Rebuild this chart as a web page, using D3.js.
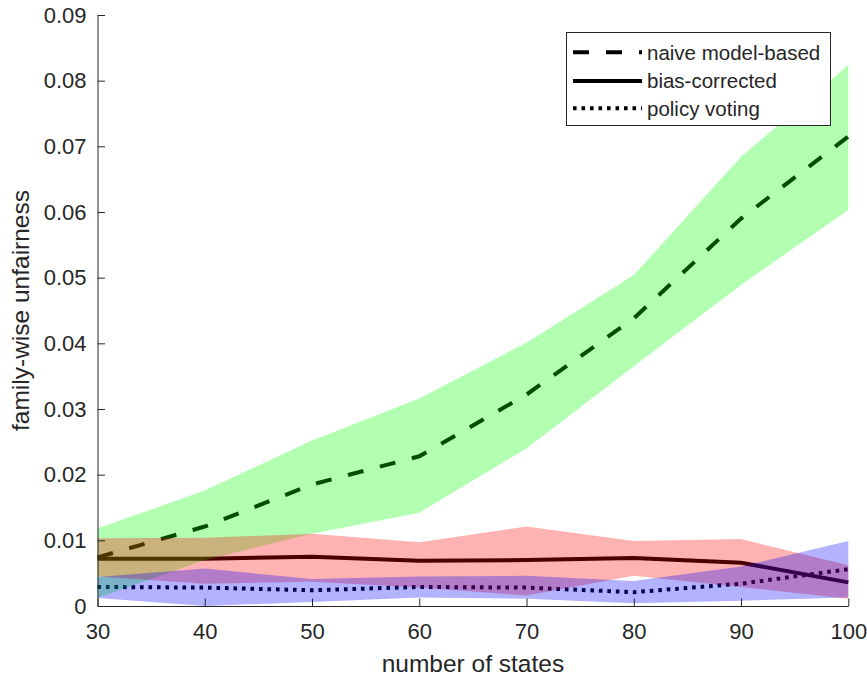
<!DOCTYPE html>
<html>
<head>
<meta charset="utf-8">
<script src="https://cdn.jsdelivr.net/npm/d3@7"></script>
<style>
  body { margin: 0; background: #fff; }
  text { font-family: "Liberation Sans", Arial, Helvetica, sans-serif; fill: #262626; }
</style>
</head>
<body>
<script>
// data
var states = [30, 40, 50, 60, 70, 80, 90, 100];

var naiveMean  = [0.0074, 0.0121, 0.0185, 0.0228, 0.0322, 0.0438, 0.0590, 0.0715];
var naiveUpper = [0.0118, 0.0176, 0.0252, 0.0316, 0.0401, 0.0504, 0.0684, 0.0824];
var naiveLower = [0.0012, 0.0070, 0.0110, 0.0142, 0.0240, 0.0365, 0.0489, 0.0603];

var biasMean  = [0.0072, 0.0072, 0.0075, 0.0069, 0.0070, 0.0073, 0.0066, 0.0036];
var biasUpper = [0.0103, 0.0104, 0.0110, 0.0097, 0.0121, 0.0099, 0.0102, 0.0062];
var biasLower = [0.0045, 0.0034, 0.0037, 0.0028, 0.0016, 0.0046, 0.0029, 0.0011];

var policyMean  = [0.0029, 0.0028, 0.0024, 0.0029, 0.0028, 0.0021, 0.0034, 0.0056];
var policyUpper = [0.0044, 0.0057, 0.0041, 0.0045, 0.0046, 0.0038, 0.0060, 0.0099];
var policyLower = [0.0012, 0.0000, 0.0006, 0.0013, 0.0011, 0.0004, 0.0008, 0.0013];

var xTicks = [30, 40, 50, 60, 70, 80, 90, 100];
var yTicks = [0, 0.01, 0.02, 0.03, 0.04, 0.05, 0.06, 0.07, 0.08, 0.09];
var yTickLabels = ["0", "0.01", "0.02", "0.03", "0.04", "0.05", "0.06", "0.07", "0.08", "0.09"];

var seriesNames = ["naive model-based", "bias-corrected", "policy voting"];

// svg params
var svgWidth = 867;
var svgHeight = 677;

var margin = { top: 15, right: 18.7, bottom: 71, left: 97.5 };
var chartWidth = svgWidth - margin.left - margin.right;
var chartHeight = svgHeight - margin.top - margin.bottom;

var svg = d3.select("body").append("svg")
    .attr("width", svgWidth)
    .attr("height", svgHeight);

var chartGroup = svg.append("g")
    .attr("transform", `translate(${margin.left}, ${margin.top})`);

var xScale = d3.scaleLinear().domain([30, 100]).range([0, chartWidth]);
var yScale = d3.scaleLinear().domain([0, 0.09]).range([chartHeight, 0]);

var dashes = ["16,17", null, "3.6,4.9"];

var series = [
  { mean: naiveMean, upper: naiveUpper, lower: naiveLower, fill: "#00ff00" },
  { mean: biasMean, upper: biasUpper, lower: biasLower, fill: "#ff0000" },
  { mean: policyMean, upper: policyUpper, lower: policyLower, fill: "#0000ff" }
];

var line = d3.line()
    .x((d, i) => xScale(states[i]))
    .y(d => yScale(d));

var area = d3.area()
    .x(d => xScale(d.x))
    .y0(d => yScale(d.lo))
    .y1(d => yScale(d.hi));

// black mean lines go underneath, the shaded bands are drawn over them
series.forEach(function(s, k) {
  chartGroup.append("path")
      .attr("d", line(s.mean))
      .attr("fill", "none")
      .attr("stroke", "#000")
      .attr("stroke-width", 4)
      .attr("stroke-dasharray", dashes[k]);
});

series.forEach(function(s) {
  var band = states.map((x, i) => ({ x: x, lo: s.lower[i], hi: s.upper[i] }));
  chartGroup.append("path")
      .attr("d", area(band))
      .attr("fill", s.fill)
      .attr("fill-opacity", 0.3);
});

// axes, matlab style: ticks pointing in, no box
var xAxis = d3.axisBottom(xScale).tickValues(xTicks).tickSizeInner(-7.5).tickSizeOuter(0).tickPadding(17);
var yAxis = d3.axisLeft(yScale).tickValues(yTicks).tickFormat((d, i) => yTickLabels[i])
    .tickSizeInner(-7.5).tickSizeOuter(0).tickPadding(11);

var gx = chartGroup.append("g")
    .attr("transform", `translate(0, ${chartHeight})`)
    .call(xAxis);
var gy = chartGroup.append("g").call(yAxis);

[gx, gy].forEach(function(g) {
  g.select(".domain").attr("stroke", "#262626").attr("stroke-width", 1);
  g.selectAll(".tick line").attr("stroke", "#262626").attr("stroke-width", 1);
  g.selectAll(".tick text").attr("font-size", 22).attr("fill", "#262626")
      .style("font-family", "'Liberation Sans', Arial, sans-serif");
});

// axis labels
svg.append("text")
    .attr("x", margin.left + chartWidth / 2)
    .attr("y", 672)
    .attr("text-anchor", "middle")
    .attr("font-size", 24.5)
    .text("number of states");

svg.append("text")
    .attr("transform", `translate(29, ${margin.top + chartHeight / 2}) rotate(-90)`)
    .attr("text-anchor", "middle")
    .attr("font-size", 24.5)
    .text("family-wise unfairness");

// legend
var legend = svg.append("g");
legend.append("rect")
    .attr("x", 566.5)
    .attr("y", 32.5)
    .attr("width", 264)
    .attr("height", 93)
    .attr("fill", "#fff")
    .attr("stroke", "#262626")
    .attr("stroke-width", 1);

var legendRows = [52.3, 81, 108.3];
seriesNames.forEach(function(name, k) {
  legend.append("line")
      .attr("x1", 573)
      .attr("x2", 642)
      .attr("y1", legendRows[k])
      .attr("y2", legendRows[k])
      .attr("stroke", "#000")
      .attr("stroke-width", 4)
      .attr("stroke-dasharray", dashes[k]);
  legend.append("text")
      .attr("x", 647)
      .attr("y", legendRows[k] + 7.3)
      .attr("font-size", 20.5)
      .text(name);
});
</script>
</body>
</html>
